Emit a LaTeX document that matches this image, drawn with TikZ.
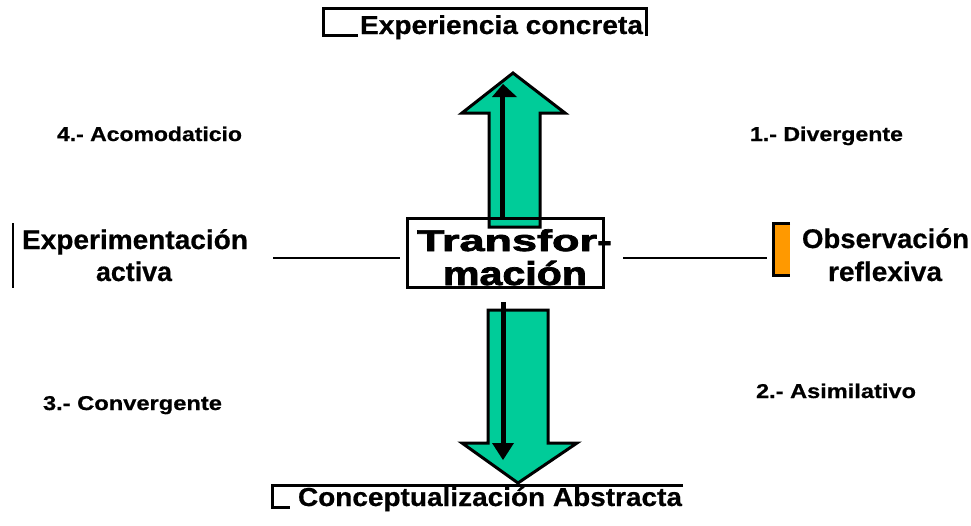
\documentclass[tikz,border=0pt]{standalone}
\usepackage{fontspec}
\setmainfont{Liberation Sans}
\newfontfamily\heavy[FakeBold=2.2]{Liberation Sans Bold}
\newfontfamily\semiheavy[FakeBold=0.6]{Liberation Sans Bold}
\usepackage{graphicx}
\newcommand{\fitw}[3]{\resizebox{#1pt}{\height}{\fontsize{#2}{#2}\selectfont\semiheavy #3}}
\newcommand{\fith}[3]{\resizebox{#1pt}{\height}{\fontsize{#2}{#2}\selectfont\heavy #3}}
\definecolor{arrgreen}{RGB}{0,204,153}
\definecolor{obsorange}{RGB}{255,153,0}
\begin{document}
\begin{tikzpicture}[x=1pt,y=-1pt,
  txt/.style={inner sep=0pt, outer sep=0pt, anchor=base west},
  frame/.style={line width=3pt, black},
  thinline/.style={line width=2.2pt, black},
  bigarrow/.style={fill=arrgreen, draw=black, line width=3pt, line join=miter},
  blackarrow/.style={line width=5pt, black},
  blackhead/.style={fill=black, draw=none}]
\useasboundingbox (0,0) rectangle (971,525);

% ---- up arrow
\draw[bigarrow] (513,73) -- (565,113) -- (540,113) -- (540,227) -- (489,227) -- (489,113) -- (462,113) -- cycle;
\coordinate (upS) at (502,217);
\coordinate (upE) at (502,96);
\draw[blackarrow] (upS) -- (upE);
\fill[blackhead] (492,97) -- (517,97) -- (503,84) -- cycle;

% ---- down arrow
\draw[bigarrow] (488,310) -- (548,310) -- (548,443) -- (577,443) -- (518,483) -- (462,443) -- (488,443) -- cycle;
\coordinate (dnS) at (503,302);
\coordinate (dnE) at (503,444);
\draw[blackarrow] (dnS) -- (dnE);
\fill[blackhead] (492,443) -- (514,443) -- (503,460) -- cycle;

% ---- central box
\draw[frame] (407,218) rectangle (603,287);
\node[txt] (tr1) at (417,251) {\fith{195}{30}{Transfor-}};
\node[txt] (tr2) at (443,285) {\fith{144}{33}{mación}};

% ---- top box
\draw[frame] (358,35) -- (323,35) -- (323,8) -- (646,8) -- (646,36);
\node[txt] (top) at (360,34) {\fitw{283}{26}{Experiencia concreta}};

% ---- bottom box
\draw[frame] (683,485) -- (272,485) -- (272,507) -- (290,507);
\node[txt] (bot) at (298,506) {\fitw{384}{26}{Conceptualización Abstracta}};

% ---- left side
\draw[thinline] (13,223) -- (13,288);
\node[txt] (expA) at (22,249) {\fitw{226}{27}{Experimentación}};
\node[txt] (expB) at (96,281) {\fitw{76}{27}{activa}};
\coordinate (lA) at (273,258);
\coordinate (lB) at (400,258);
\draw[thinline] (lA) -- (lB);

% ---- right side
\coordinate (rA) at (623,258);
\coordinate (rB) at (767,258);
\draw[thinline] (rA) -- (rB);
\fill[obsorange] (773,223) rectangle (790,275);
\draw[frame] (790,223) -- (773,223) -- (773,275) -- (790,275);
\node[txt] (obsA) at (802,248) {\fitw{167}{27}{Observación}};
\node[txt] (obsB) at (828,281) {\fitw{114}{27}{reflexiva}};

% ---- style labels
\node[txt] (s4) at (57,141) {\fitw{185}{20}{4.- Acomodaticio}};
\node[txt] (s1) at (750,141) {\fitw{153}{20}{1.- Divergente}};
\node[txt] (s3) at (43,410) {\fitw{179}{20}{3.- Convergente}};
\node[txt] (s2) at (756,398) {\fitw{160}{20}{2.- Asimilativo}};
\end{tikzpicture}
\end{document}
